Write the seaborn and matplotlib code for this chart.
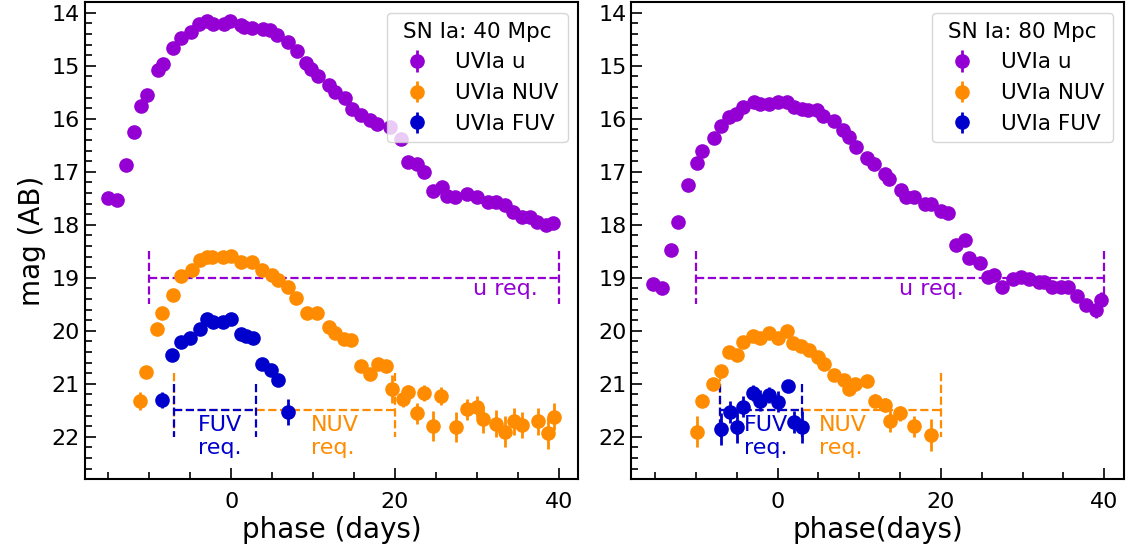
import matplotlib
matplotlib.use("Agg")
import matplotlib.pyplot as plt
import seaborn as sns
from matplotlib.ticker import MultipleLocator

# ─────────────────────────────
# Data
# ─────────────────────────────
# SN Ia at 40 Mpc
u40_phase = [-15.1, -13.9, -12.9, -11.9, -11.0, -10.3, -8.9, -8.3, -7.1, -6.1,
             -4.9, -3.9, -2.9, -2.2, -0.9, -0.1, 1.2, 1.6, 2.6, 3.9,
             4.8, 5.6, 6.9, 8.0, 9.1, 9.7, 10.6, 11.9, 12.7, 13.9,
             14.7, 15.8, 17.0, 17.8, 19.4, 20.8, 21.6, 22.7, 23.6, 24.7,
             25.7, 26.3, 27.3, 28.8, 30.0, 31.4, 32.4, 33.4, 34.4, 35.5,
             36.5, 37.3, 38.5, 39.3]
u40_mag = [17.49, 17.54, 16.87, 16.24, 15.76, 15.56, 15.08, 14.97, 14.66, 14.48,
           14.36, 14.21, 14.16, 14.21, 14.21, 14.16, 14.23, 14.26, 14.28, 14.31,
           14.33, 14.41, 14.55, 14.72, 14.94, 15.06, 15.20, 15.37, 15.50, 15.61,
           15.81, 15.92, 16.03, 16.10, 16.16, 16.38, 16.82, 16.85, 17.00, 17.37,
           17.29, 17.45, 17.48, 17.41, 17.48, 17.57, 17.57, 17.63, 17.76, 17.85,
           17.85, 17.95, 18.01, 17.97]
u40_err = [0.03, 0.03, 0.02, 0.02, 0.02, 0.02, 0.02, 0.02, 0.02, 0.02,
           0.02, 0.02, 0.02, 0.02, 0.02, 0.02, 0.02, 0.02, 0.02, 0.02,
           0.02, 0.02, 0.02, 0.02, 0.02, 0.02, 0.02, 0.02, 0.02, 0.02,
           0.02, 0.02, 0.02, 0.02, 0.02, 0.02, 0.02, 0.02, 0.02, 0.03,
           0.03, 0.03, 0.03, 0.03, 0.03, 0.03, 0.03, 0.03, 0.03, 0.03,
           0.03, 0.03, 0.03, 0.03]

nuv40_phase = [-11.1, -10.4, -9.0, -8.4, -7.1, -6.1, -4.8, -3.8, -2.9, -2.3,
               -1.0, 0.0, 1.2, 2.6, 3.8, 5.0, 5.7, 6.9, 7.9, 9.3,
               10.5, 11.9, 12.7, 13.8, 14.6, 15.8, 16.9, 17.9, 18.9, 19.7,
               21.0, 21.6, 22.7, 23.5, 24.7, 25.6, 27.4, 28.8, 30.0, 30.8,
               32.3, 33.4, 34.5, 35.5, 37.5, 38.7, 39.4]
nuv40_mag = [21.32, 20.77, 19.97, 19.66, 19.33, 18.97, 18.86, 18.66, 18.61, 18.61,
             18.60, 18.58, 18.70, 18.71, 18.85, 18.95, 19.05, 19.17, 19.39, 19.67,
             19.66, 19.93, 20.05, 20.15, 20.18, 20.67, 20.82, 20.62, 20.67, 21.10,
             21.29, 21.15, 21.56, 21.17, 21.80, 21.23, 21.82, 21.48, 21.43, 21.67,
             21.75, 21.90, 21.71, 21.78, 21.71, 21.93, 21.62]
nuv40_err = [0.17, 0.06, 0.04, 0.03, 0.03, 0.02, 0.02, 0.02, 0.02, 0.02,
             0.02, 0.02, 0.02, 0.02, 0.02, 0.03, 0.03, 0.03, 0.03, 0.04,
             0.04, 0.04, 0.05, 0.05, 0.05, 0.06, 0.06, 0.06, 0.06, 0.27,
             0.15, 0.12, 0.20, 0.15, 0.28, 0.17, 0.28, 0.20, 0.20, 0.25,
             0.25, 0.30, 0.25, 0.25, 0.25, 0.30, 0.25]

fuv40_phase = [-8.4, -7.2, -6.1, -5.0, -3.8, -2.9, -2.2, -1.0, 0.0, 1.2,
               1.8, 2.7, 3.8, 4.9, 5.7, 7.0]
fuv40_mag = [21.31, 20.46, 20.21, 20.13, 19.97, 19.77, 19.83, 19.84, 19.77, 20.06,
             20.10, 20.13, 20.62, 20.73, 20.92, 21.53]
fuv40_err = [0.15, 0.06, 0.05, 0.04, 0.04, 0.04, 0.04, 0.04, 0.04, 0.05,
             0.05, 0.05, 0.06, 0.06, 0.07, 0.25]

# SN Ia at 80 Mpc
u80_phase = [-15.3, -14.1, -13.1, -12.2, -11.0, -9.9, -9.2, -7.8, -6.9, -6.0,
             -5.1, -4.2, -2.9, -2.1, -1.1, 0.1, 1.2, 2.0, 3.0, 3.7,
             4.8, 5.6, 6.9, 8.0, 8.7, 9.6, 11.0, 11.8, 13.1, 13.7,
             15.1, 15.7, 16.7, 18.0, 18.8, 20.0, 20.9, 21.8, 22.9, 23.4,
             24.8, 25.7, 26.5, 27.5, 28.8, 29.8, 30.8, 32.0, 32.6, 33.6,
             34.7, 35.6, 36.6, 37.7, 39.0, 39.6]
u80_mag = [19.11, 19.20, 18.47, 17.94, 17.25, 16.84, 16.61, 16.36, 16.13, 15.97,
           15.90, 15.77, 15.69, 15.72, 15.72, 15.69, 15.69, 15.77, 15.81, 15.83,
           15.83, 15.94, 16.05, 16.22, 16.35, 16.54, 16.73, 16.85, 17.04, 17.13,
           17.35, 17.48, 17.48, 17.60, 17.60, 17.73, 17.78, 18.39, 18.29, 18.62,
           18.72, 18.98, 18.95, 19.17, 19.02, 18.98, 19.02, 19.08, 19.08, 19.17,
           19.18, 19.18, 19.35, 19.52, 19.61, 19.42]
u80_err = [0.05, 0.05, 0.04, 0.03, 0.03, 0.03, 0.03, 0.02, 0.02, 0.02,
           0.02, 0.02, 0.02, 0.02, 0.02, 0.02, 0.02, 0.02, 0.02, 0.02,
           0.02, 0.02, 0.02, 0.02, 0.02, 0.03, 0.03, 0.03, 0.03, 0.03,
           0.03, 0.03, 0.03, 0.03, 0.03, 0.04, 0.04, 0.05, 0.05, 0.05,
           0.05, 0.06, 0.06, 0.06, 0.06, 0.06, 0.06, 0.06, 0.06, 0.07,
           0.07, 0.07, 0.08, 0.10, 0.15, 0.15]

nuv80_phase = [-9.9, -9.2, -7.9, -6.9, -6.0, -5.0, -4.2, -3.0, -2.2, -1.1,
               0.1, 1.2, 1.9, 2.9, 3.9, 4.9, 5.7, 6.9, 8.1, 8.7,
               9.5, 11.0, 11.9, 13.1, 13.8, 15.0, 16.7, 18.8]
nuv80_mag = [21.90, 21.32, 21.00, 20.76, 20.40, 20.46, 20.21, 20.10, 20.13, 20.05,
             20.13, 20.00, 20.23, 20.29, 20.37, 20.49, 20.63, 20.84, 20.93, 21.10,
             21.00, 20.94, 21.32, 21.40, 21.70, 21.56, 21.80, 21.97]
nuv80_err = [0.30, 0.12, 0.08, 0.06, 0.05, 0.05, 0.04, 0.04, 0.04, 0.04,
             0.04, 0.04, 0.05, 0.05, 0.05, 0.06, 0.06, 0.07, 0.08, 0.09,
             0.09, 0.09, 0.12, 0.13, 0.20, 0.15, 0.20, 0.30]

fuv80_phase = [-6.9, -5.8, -5.0, -4.2, -3.0, -2.2, -1.1, 0.1, 1.3, 2.0, 3.0]
fuv80_mag = [21.86, 21.53, 21.81, 21.43, 21.18, 21.32, 21.21, 21.34, 21.04, 21.72, 21.82]
fuv80_err = [0.30, 0.20, 0.30, 0.20, 0.15, 0.20, 0.15, 0.20, 0.10, 0.20, 0.30]

# requirement windows: (start, end, mag, low, high)
u_req = (-10, 40, 19.0, 18.5, 19.5)
nuv_req = (-7, 20, 21.5, 20.8, 22.0)
fuv_req = (-7, 3, 21.5, 21.0, 22.0)

C_U = "darkviolet"
C_NUV = "darkorange"
C_FUV = "mediumblue"

# ─────────────────────────────
# Style
# ─────────────────────────────
sns.set_style("ticks", {"axes.edgecolor": "black", "xtick.color": "black",
                        "ytick.color": "black", "text.color": "black",
                        "axes.labelcolor": "black"})


def draw_req(ax, req, color):
    x0, x1, m, lo, hi = req
    ax.hlines(m, x0, x1, colors=color, linestyles="--", lw=1.6, zorder=1)
    ax.vlines([x0, x1], lo, hi, colors=color, linestyles="--", lw=1.6, zorder=1)


def panel(ax, u, nuv, fuv, title, xlabel, u_txt_x, nuv_txt_x):
    draw_req(ax, u_req, C_U)
    draw_req(ax, nuv_req, C_NUV)
    draw_req(ax, fuv_req, C_FUV)

    kw = dict(fmt="o", ms=9.5, elinewidth=2, capsize=0, zorder=3)
    ax.errorbar(u[0], u[1], yerr=u[2], color=C_U, label="UVIa u", **kw)
    ax.errorbar(nuv[0], nuv[1], yerr=nuv[2], color=C_NUV, label="UVIa NUV", **kw)
    ax.errorbar(fuv[0], fuv[1], yerr=fuv[2], color=C_FUV, label="UVIa FUV", **kw)

    ax.text(u_txt_x, 19.22, "u req.", color=C_U, fontsize=16,
            ha="center", va="center")
    ax.text(-4.1, 22.0, "FUV\nreq.", color=C_FUV, fontsize=16,
            ha="left", va="center")
    ax.text(nuv_txt_x, 22.0, "NUV\nreq.", color=C_NUV, fontsize=16,
            ha="left", va="center")

    ax.set_xlim(-17.9, 42.4)
    ax.set_ylim(22.8, 13.8)
    ax.xaxis.set_major_locator(MultipleLocator(20))
    ax.xaxis.set_minor_locator(MultipleLocator(5))
    ax.yaxis.set_major_locator(MultipleLocator(1))
    ax.yaxis.set_minor_locator(MultipleLocator(0.2))
    ax.tick_params(which="both", direction="in", labelsize=16, width=1.2)
    ax.tick_params(which="major", length=8)
    ax.tick_params(which="minor", length=5)
    ax.tick_params(axis="x", which="major", pad=9)
    for s in ax.spines.values():
        s.set_linewidth(1.5)
    ax.set_xlabel(xlabel, fontsize=20, labelpad=3)

    ax.legend(loc="upper right", title=title, fontsize=15.5, title_fontsize=15.5)


fig = plt.figure(figsize=(11.28, 5.54), dpi=100)
ax1 = fig.add_axes([0.075, 0.135, 0.4377, 0.861])
ax2 = fig.add_axes([0.5597, 0.135, 0.4367, 0.861])

panel(ax1, (u40_phase, u40_mag, u40_err), (nuv40_phase, nuv40_mag, nuv40_err),
      (fuv40_phase, fuv40_mag, fuv40_err), "SN Ia: 40 Mpc", "phase (days)",
      33.5, 9.7)
panel(ax2, (u80_phase, u80_mag, u80_err), (nuv80_phase, nuv80_mag, nuv80_err),
      (fuv80_phase, fuv80_mag, fuv80_err), "SN Ia: 80 Mpc", "phase(days)",
      18.8, 5.1)
ax1.set_ylabel("mag (AB)", fontsize=20)

fig.savefig("out.png", dpi=100)
